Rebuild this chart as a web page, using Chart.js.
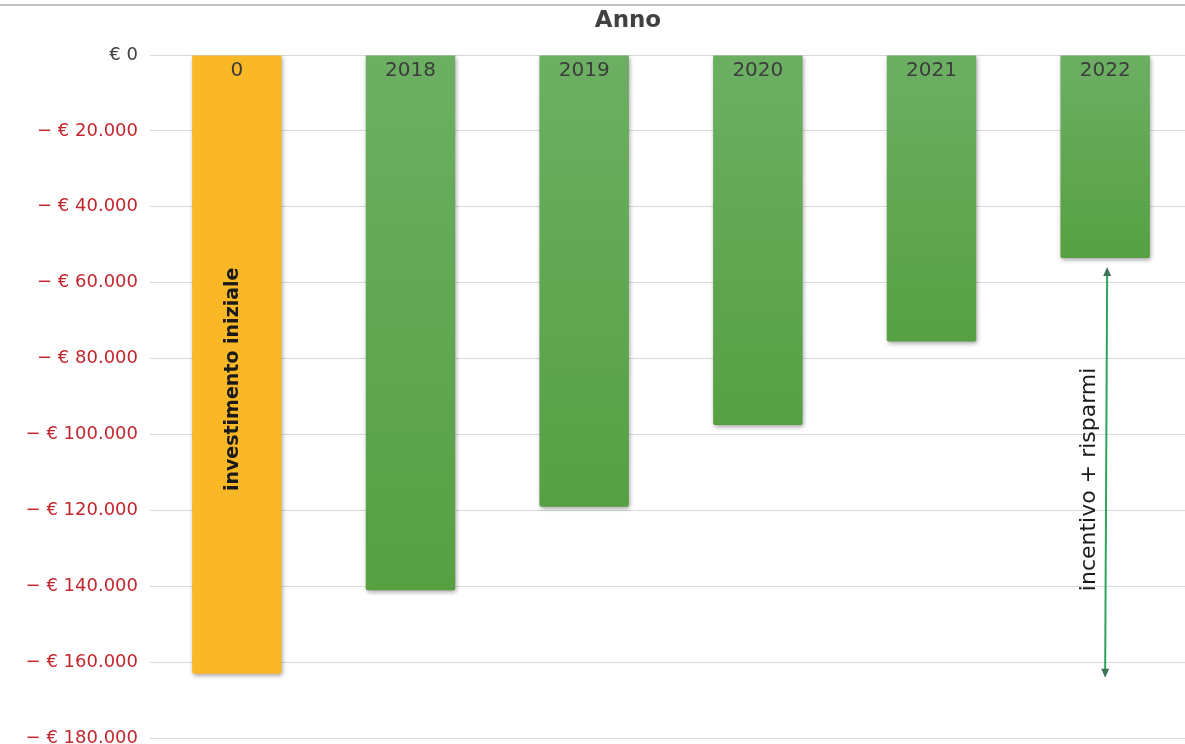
<!DOCTYPE html>
<html>
<head>
<meta charset="utf-8">
<script src="https://cdn.jsdelivr.net/npm/chart.js@4"></script>
<style>
    html, body { margin: 0; padding: 0; background: #fff; overflow: hidden; }
    #wrap { position: relative; width: 1185px; height: 744px; overflow: hidden; }
    #topline { position: absolute; left: 0; top: 4px; width: 1185px; height: 2px; background: #c3c3c3; }
</style>
</head>
<body>
<div id="wrap">
    <canvas id="chart" width="1192" height="761"></canvas>
    <div id="topline"></div>
</div>
<script>
// years (category labels shown inside the bars)
const years = ['0', '2018', '2019', '2020', '2021', '2022'];
// cumulative cash flow in euro
const cashflow = [-163000, -141000, -119000, -97500, -75500, -53500];
// y axis range
const yMin = -180000;
const yMax = 0;
const yStep = 20000;

const axisTitle = 'Anno';
const startNote = 'investimento iniziale';
const arrowNote = 'incentivo + risparmi';

function euro(v) {
    if (v === 0) return '€ 0';
    const s = String(Math.abs(v)).replace(/\B(?=(\d{3})+(?!\d))/g, '.');
    return (v < 0 ? '− ' : '') + '€ ' + s;
}

function barColor(c) {
    if (c.dataIndex === 0) return '#fbb826';
    const chart = c.chart;
    if (!chart.chartArea) return '#62a84f';
    const y = chart.scales.y;
    const g = chart.ctx.createLinearGradient(0, y.getPixelForValue(0), 0, y.getPixelForValue(cashflow[c.dataIndex]));
    g.addColorStop(0, '#6caf63');
    g.addColorStop(1, '#56a042');
    return g;
}

// soft shadow under the bars
const barShadow = {
    id: 'barShadow',
    beforeDatasetsDraw(chart) {
        const ctx = chart.ctx;
        ctx.save();
        ctx.shadowColor = 'rgba(0,0,0,0.35)';
        ctx.shadowBlur = 4;
        ctx.shadowOffsetX = 1;
        ctx.shadowOffsetY = 2;
    },
    afterDatasetsDraw(chart) {
        chart.ctx.restore();
    }
};

// labels inside the bars, title and the arrow note
const notes = {
    id: 'notes',
    afterDraw(chart) {
        const ctx = chart.ctx;
        const y = chart.scales.y;
        const bars = chart.getDatasetMeta(0).data;
        const y0 = y.getPixelForValue(0);

        ctx.save();
        // axis title
        ctx.fillStyle = '#404040';
        ctx.font = 'bold 23px "DejaVu Sans"';
        ctx.textAlign = 'center';
        ctx.textBaseline = 'middle';
        ctx.fillText(axisTitle, 628, 21);

        // year labels at the top of each bar
        ctx.font = '20px "DejaVu Sans"';
        ctx.fillStyle = '#3c3c3c';
        bars.forEach((b, i) => {
            ctx.fillText(years[i], b.x, y0 + 16);
        });

        // rotated note in the first bar
        const first = bars[0];
        ctx.save();
        ctx.translate(first.x - 4, (y0 + first.y) / 2 + 15);
        ctx.rotate(-Math.PI / 2);
        ctx.font = 'bold 19px "DejaVu Sans"';
        ctx.fillStyle = '#1a1a1a';
        ctx.fillText(startNote, 0, 0);
        ctx.restore();

        // double arrow from last bar down to the starting level
        const last = bars[bars.length - 1];
        const ax = last.x + 1;
        const top = y.getPixelForValue(cashflow[cashflow.length - 1]) + 9;
        const bottom = y.getPixelForValue(cashflow[0]) + 4;
        ctx.strokeStyle = '#2ea35e';
        ctx.lineWidth = 2;
        ctx.beginPath();
        ctx.moveTo(ax + 1, top + 6);
        ctx.lineTo(ax - 1, bottom - 6);
        ctx.stroke();
        ctx.fillStyle = '#3d7356';
        ctx.beginPath();
        ctx.moveTo(ax + 1, top);
        ctx.lineTo(ax - 3, top + 9);
        ctx.lineTo(ax + 5, top + 9);
        ctx.closePath();
        ctx.fill();
        ctx.beginPath();
        ctx.moveTo(ax - 1, bottom);
        ctx.lineTo(ax - 5, bottom - 9);
        ctx.lineTo(ax + 3, bottom - 9);
        ctx.closePath();
        ctx.fill();

        ctx.save();
        ctx.translate(last.x - 16, (top + bottom) / 2 + 7);
        ctx.rotate(-Math.PI / 2);
        ctx.font = '22px "DejaVu Sans"';
        ctx.fillStyle = '#1a1a1a';
        ctx.fillText(arrowNote, 0, 0);
        ctx.restore();

        ctx.restore();
    }
};

const ctx = document.getElementById('chart').getContext('2d');
new Chart(ctx, {
    type: 'bar',
    data: {
        labels: years,
        datasets: [{
            data: cashflow,
            backgroundColor: barColor,
            borderWidth: 0,
            borderRadius: 2,
            borderSkipped: 'start',
            categoryPercentage: 1,
            barPercentage: 0.515
        }]
    },
    options: {
        responsive: false,
        animation: false,
        layout: {
            padding: { top: 55, right: 0, bottom: 7, left: 0 }
        },
        plugins: {
            legend: { display: false },
            tooltip: { enabled: false }
        },
        scales: {
            x: {
                display: false
            },
            y: {
                min: yMin,
                max: yMax,
                border: { display: false },
                grid: {
                    color: '#d9d9d9',
                    drawTicks: false
                },
                afterFit(scale) {
                    scale.width = 150;
                },
                ticks: {
                    stepSize: yStep,
                    padding: 12,
                    font: { family: 'DejaVu Sans', size: 18 },
                    color: (c) => c.tick.value === 0 ? '#404040' : '#c4262e',
                    callback: (v) => euro(v)
                }
            }
        }
    },
    plugins: [barShadow, notes]
});
</script>
</body>
</html>
